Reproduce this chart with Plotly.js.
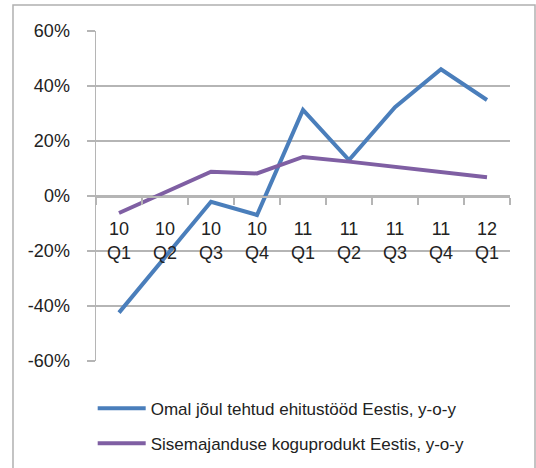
<!DOCTYPE html>
<html>
<head>
<meta charset="utf-8">
<script src="https://cdn.plot.ly/plotly-3.0.1.min.js"></script>
<style>html,body{margin:0;padding:0;background:#fff;}#chart{width:536px;height:468px;}</style>
</head>
<body>
<div id="chart"></div>
<script>
const categories = ["10 Q1","10 Q2","10 Q3","10 Q4","11 Q1","11 Q2","11 Q3","11 Q4","12 Q1"];
const tickLabels = ["10<br>Q1","10<br>Q2","10<br>Q3","10<br>Q4","11<br>Q1","11<br>Q2","11<br>Q3","11<br>Q4","12<br>Q1"];
const construction = [-0.424, -0.222, -0.021, -0.069, 0.313, 0.131, 0.323, 0.461, 0.349];
const gdp = [-0.062, 0.013, 0.088, 0.082, 0.142, 0.125, 0.107, 0.086, 0.068];
const seriesNames = ["Omal jõul tehtud ehitustööd Eestis, y-o-y", "Sisemajanduse koguprodukt Eestis, y-o-y"];
const yTicks = [-0.6, -0.4, -0.2, 0, 0.2, 0.4, 0.6];
const yTickLabels = ["-60%", "-40%", "-20%", "0%", "20%", "40%", "60%"];

const font = "Liberation Sans, Arial, sans-serif";
const grid = "#b5b5b5";

const traces = [
  {x: categories, y: construction, name: seriesNames[0], type: "scatter", mode: "lines",
   line: {color: "#4a7ebb", width: 4}, legendgroup: "a"},
  {x: categories, y: gdp, name: seriesNames[1], type: "scatter", mode: "lines",
   line: {color: "#7f5fa3", width: 4}, legendgroup: "b"}
];

const layout = {
  width: 536, height: 468,
  margin: {l: 96, r: 26, t: 31, b: 107, autoexpand: false},
  paper_bgcolor: "#fff", plot_bgcolor: "#fff",
  font: {family: font, color: "#222", size: 18},
  showlegend: true,
  legend: {x: -0.008, xanchor: "left", y: -0.09, yanchor: "top", orientation: "v",
           font: {family: font, size: 17, color: "#222"}, tracegroupgap: 10, itemwidth: 48, bgcolor: "rgba(0,0,0,0)"},
  xaxis: {type: "category", anchor: "free", position: 0.5, range: [-0.5, 8.5],
          tickmode: "array", tickvals: categories, ticktext: tickLabels,
          showline: true, linecolor: grid, linewidth: 1.5,
          ticks: "outside", ticklen: 7, tickcolor: grid, tickwidth: 1.5, tickson: "boundaries",
          showgrid: false, zeroline: false, tickfont: {size: 18}, ticklabelstandoff: 16},
  yaxis: {range: [-0.6, 0.6], tickmode: "array", tickvals: yTicks, ticktext: yTickLabels,
          showline: true, linecolor: grid, linewidth: 1.5,
          ticks: "outside", ticklen: 8, tickcolor: grid, tickwidth: 1.5,
          showgrid: true, gridcolor: grid, gridwidth: 1.5, zeroline: false,
          tickfont: {size: 18}, ticklabelstandoff: 13},
  shapes: [
    {type: "rect", xref: "paper", yref: "paper", x0: -0.2005, x1: 1.0604, y0: 1.0788, y1: -0.34,
     line: {color: "#b0b0b0", width: 1.5}, fillcolor: "rgba(0,0,0,0)", layer: "below"}
  ]
};

Plotly.newPlot("chart", traces, layout, {displayModeBar: false, staticPlot: true});
</script>
</body>
</html>
